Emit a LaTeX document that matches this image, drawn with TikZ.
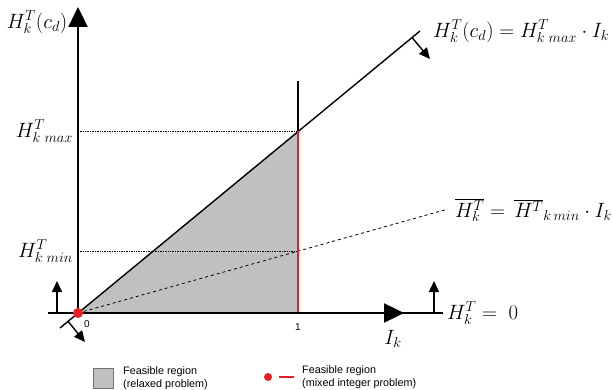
\documentclass[tikz,border=0pt]{standalone}
\usepackage{fontspec}
\newfontfamily\legfont{Liberation Sans}
\usetikzlibrary{arrows.meta}
\definecolor{regiongray}{RGB}{192,192,192}
\definecolor{legred}{RGB}{235,30,35}
\begin{document}
\begin{tikzpicture}[x=1pt,y=-1pt,font=\fontsize{19.5}{23}\selectfont,
  axisline/.style={line width=2.4pt},
  bigtip/.style={-{Triangle[length=20pt,width=19pt]}},
  constr/.style={line width=1.4pt},
  smalltip/.style={-{Triangle[length=11pt,width=10pt]}},
  mathlabel/.style={inner sep=1pt},
  legtext/.style={font=\legfont\fontsize{10.8}{12.5}\selectfont,align=left,anchor=west,inner sep=0pt},
  ticklabel/.style={font=\legfont\fontsize{10}{11}\selectfont,inner sep=0pt}]
\useasboundingbox (0,0) rectangle (612,390);
% coordinates
\coordinate (O) at (78,313);
\coordinate (P1) at (298,313);
\coordinate (Pmax) at (298,131);
\coordinate (Pmin) at (298,251);
\coordinate (Ymax) at (78,131);
\coordinate (Ymin) at (78,251);
\coordinate (Vtop) at (298,81);
\coordinate (Ltop) at (420,31);
\coordinate (Lbot) at (60,328);
\coordinate (Dend) at (448,209);
\coordinate (Hleft) at (48,313);
\coordinate (Hright) at (443,313);
\coordinate (Xtip) at (404,313);
\coordinate (Ytip) at (78,7);
% feasible region
\fill[regiongray] (O) -- (Pmax) -- (P1) -- cycle;
% dotted guides
\draw[densely dotted, line width=0.7pt] (Ymax) -- (Pmax);
\draw[densely dotted, line width=0.7pt] (Ymin) -- (Pmin);
% dashed line
\draw[dashed, line width=0.8pt] (O) -- (Dend);
% main constraint line
\draw[constr] (Lbot) -- (Ltop);
% perpendicular arrows
\coordinate (A1s) at (412,37.5);
\coordinate (A1e) at (430,59);
\coordinate (A2s) at (68,321.3);
\coordinate (A2e) at (85,342);
\draw[constr,smalltip] (A1s) -- (A1e);
\draw[constr,smalltip] (A2s) -- (A2e);
% H = 0 line
\draw[constr] (Hleft) -- (Hright);
\coordinate (U1s) at (57,313);
\coordinate (U1e) at (57,281);
\coordinate (U2s) at (434,313);
\coordinate (U2e) at (434,281);
\draw[constr,smalltip] (U1s) -- (U1e);
\draw[constr,smalltip] (U2s) -- (U2e);
% I = 1 line
\draw[constr] (Vtop) -- (Pmax);
\draw[constr,legred] (Pmax) -- (P1);
% axes
\draw[axisline,bigtip] (O) -- (Ytip);
\draw[axisline,bigtip] (O) -- (Xtip);
% origin dot
\fill[legred] (O) circle (5pt);
% labels
\node[mathlabel] (ylab) at (37,22) {$H_k^T(c_d)$};
\node[mathlabel,anchor=east] (ymaxlab) at (74,131) {$H^T_{k\;max}$};
\node[mathlabel,anchor=east] (yminlab) at (74,251) {$H^T_{k\;min}$};
\node[ticklabel] (zero) at (87,324) {0};
\node[ticklabel] (one) at (298,327) {1};
\node[mathlabel] (xlab) at (393,339) {$I_k$};
\node[mathlabel,anchor=west] (toplab) at (432,31) {$H_k^T(c_d) = H^T_{k\;max}\cdot I_k$};
\node[mathlabel,anchor=west] (dashlab) at (454,210) {$\overline{H_k^T} =\, \overline{H^T}_{k\,min}\cdot I_k$};
\node[mathlabel,anchor=west] (zerolab) at (446,313) {$H_k^T=\ 0$};
% legend
\node[draw=black!55, fill=regiongray, minimum size=20pt, inner sep=0pt, line width=0.6pt] (legbox) at (103,378) {};
\node[legtext] (legtxt1) at (123,378) {Feasible region\\(relaxed problem)};
\coordinate (LRa) at (279,377);
\coordinate (LRb) at (294,377);
\fill[legred] (268,377) circle (4pt);
\draw[legred, line width=1.2pt] (LRa) -- (LRb);
\node[legtext] (legtxt2) at (302,377) {Feasible region\\(mixed integer problem)};
\end{tikzpicture}
\end{document}
